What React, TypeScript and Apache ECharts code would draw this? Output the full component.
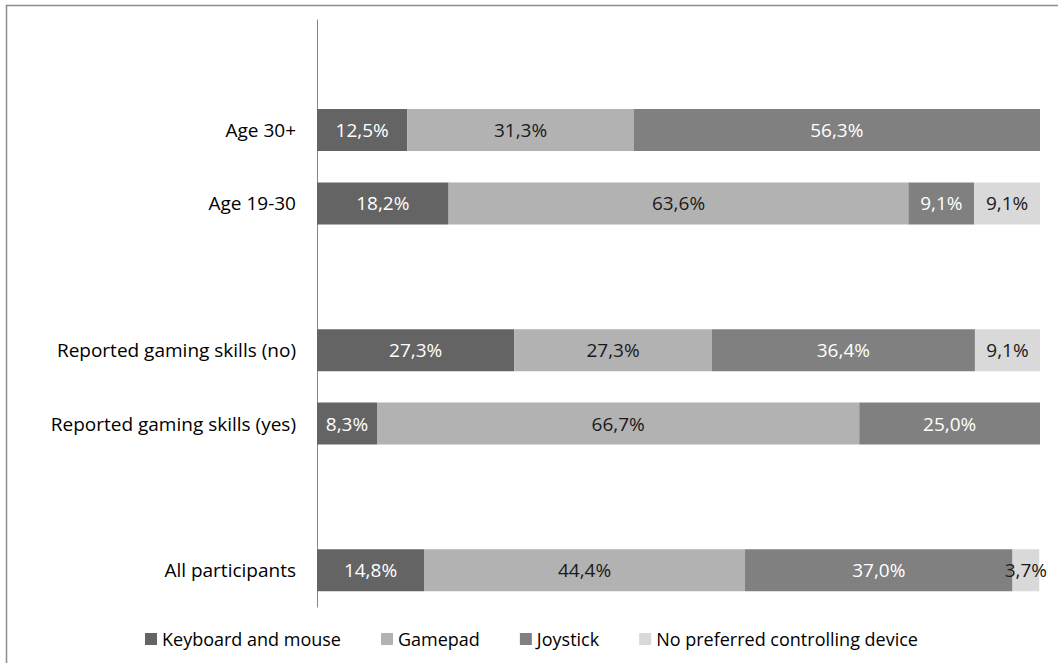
import React, { useEffect, useRef } from "react";
import * as echarts from "echarts";

const categories = [
  "All participants",
  " ",
  "Reported gaming skills (yes)",
  "Reported gaming skills (no)",
  "  ",
  "Age 19-30",
  "Age 30+",
  "   ",
];
const seriesNames = ["Keyboard and mouse", "Gamepad", "Joystick", "No preferred controlling device"];
const keyboard = [14.8, null, 8.3, 27.3, null, 18.2, 12.5, null];
const gamepad = [44.4, null, 66.7, 27.3, null, 63.6, 31.3, null];
const joystick = [37.0, null, 25.0, 36.4, null, 9.1, 56.3, null];
const noPreferred = [3.7, null, 0, 9.1, null, 9.1, 0, null];

const colors = ["#646464", "#b2b2b2", "#808080", "#d9d9d9"];
const labelColors = ["#ffffff", "#1a1a1a", "#ffffff", "#1a1a1a"];
const FONT = "Open Sans";
const FS = 19;

export default function App() {
  const ref = useRef<HTMLDivElement>(null);
  useEffect(() => {
    if (!ref.current) return;
    const chart = echarts.init(ref.current, null, { renderer: "svg" });
    const values = [keyboard, gamepad, joystick, noPreferred];
    chart.setOption({
      animation: false,
      textStyle: { fontFamily: FONT },
      grid: { left: 317, right: 18, top: 20, bottom: 56, containLabel: false },
      xAxis: {
        type: "value",
        min: 0,
        max: 100,
        show: false,
      },
      yAxis: {
        type: "category",
        data: categories,
        axisLine: { show: true, lineStyle: { color: "#868686", width: 1 } },
        axisTick: { show: false },
        axisLabel: { color: "#000000", fontSize: FS, fontFamily: FONT, margin: 21 },
      },
      legend: {
        left: 140,
        top: 625,
        icon: "rect",
        itemWidth: 12,
        itemHeight: 12,
        itemGap: 40,
        textStyle: { fontSize: 18, color: "#000000", fontFamily: FONT },
        data: seriesNames,
      },
      graphic: [
        {
          type: "polyline",
          shape: { points: [[6.5, 663], [6.5, 5.5], [1058, 5.5]] },
          style: { stroke: "#8c8c8c", lineWidth: 1.5, fill: "none" },
          silent: true,
        },
      ],
      series: seriesNames.map((name, i) => ({
        name,
        type: "bar",
        stack: "total",
        barWidth: 42,
        data: values[i],
        itemStyle: { color: colors[i] },
        label: {
          show: true,
          position: "inside",
          color: labelColors[i],
          fontSize: FS,
          fontFamily: FONT,
          formatter: (p: any) =>
            p.value == null || p.value === 0 ? "" : Number(p.value).toFixed(1).replace(".", ",") + "%",
        },
      })),
    });
    return () => chart.dispose();
  }, []);
  return (
    <div
      ref={ref}
      style={{ position: "fixed", left: 0, top: 0, width: 1058, height: 663, background: "#ffffff" }}
    />
  );
}
